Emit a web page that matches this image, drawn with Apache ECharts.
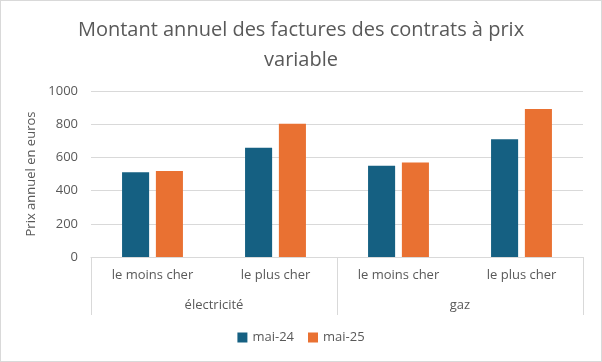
<!DOCTYPE html>
<html>
<head>
<meta charset="utf-8">
<script src="https://cdn.jsdelivr.net/npm/echarts@6/dist/echarts.min.js"></script>
<style>
html,body{margin:0;padding:0;background:#fff;}
#chart{width:600px;height:360px;border:1px solid #d9d9d9;}
</style>
</head>
<body>
<div id="chart"></div>
<script>
const categories = ['le moins cher', 'le plus cher', 'le moins cher', 'le plus cher'];
const groups = ['électricité', 'gaz'];
const seriesNames = ['mai-24', 'mai-25'];
const may24 = [510, 658, 550, 709];
const may25 = [518, 802, 570, 892];
const yTicks = [0, 200, 400, 600, 800, 1000];

const font = 'Open Sans';
const textColor = '#595959';
const chart = echarts.init(document.getElementById('chart'));
chart.setOption({
  animation: false,
  textStyle: { fontFamily: font },
  title: {
    text: 'Montant annuel des factures des contrats à prix\nvariable',
    left: 'center',
    top: 9,
    textStyle: { fontFamily: font, fontSize: 20, fontWeight: 'normal', color: textColor, lineHeight: 30 }
  },
  legend: {
    data: seriesNames,
    bottom: 12,
    left: 'center',
    itemWidth: 10,
    itemHeight: 10,
    itemGap: 14,
    icon: 'rect',
    textStyle: { fontFamily: font, fontSize: 13, color: textColor }
  },
  grid: { left: 90, right: 18, top: 90, bottom: 104, containLabel: false },
  xAxis: [
    {
      type: 'category',
      data: categories,
      axisLine: { lineStyle: { color: '#d9d9d9' } },
      axisTick: { show: false },
      axisLabel: { margin: 12, fontSize: 13, color: textColor, fontFamily: font, interval: 0 }
    },
    {
      type: 'category',
      data: groups,
      position: 'bottom',
      axisLine: { show: false },
      axisTick: { show: true, length: 58, lineStyle: { color: '#d9d9d9' } },
      axisLabel: { margin: 42, fontSize: 13, color: textColor, fontFamily: font, interval: 0 }
    }
  ],
  yAxis: {
    type: 'value',
    min: yTicks[0],
    max: yTicks[yTicks.length - 1],
    interval: 200,
    name: 'Prix annuel en euros',
    nameLocation: 'middle',
    nameGap: 51,
    nameTextStyle: { fontFamily: font, fontSize: 13, color: textColor },
    axisLine: { show: false },
    axisTick: { show: false },
    axisLabel: { margin: 13, fontSize: 13, color: textColor, fontFamily: font, formatter: v => String(v) },
    splitLine: { lineStyle: { color: '#d9d9d9' } }
  },
  series: [
    { name: seriesNames[0], type: 'bar', xAxisIndex: 0, data: may24, barWidth: '22%', barGap: '25%', itemStyle: { color: '#156082' } },
    { name: seriesNames[1], type: 'bar', xAxisIndex: 0, data: may25, barWidth: '22%', barGap: '25%', itemStyle: { color: '#E97132' } }
  ]
});
</script>
</body>
</html>
